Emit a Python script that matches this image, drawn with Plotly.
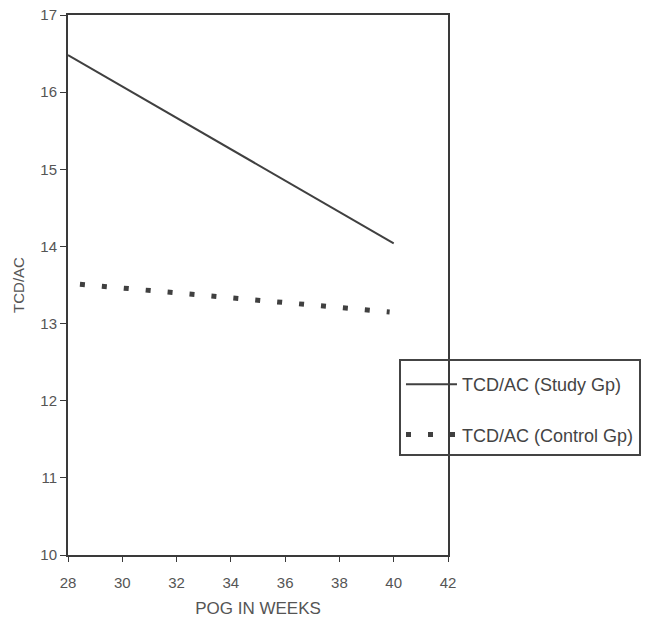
import plotly.graph_objects as go

# Data
study_weeks = [28, 40]
study_tcd_ac = [16.48, 14.04]

control_weeks = [28.44, 39.85]
control_tcd_ac = [13.51, 13.15]

x_ticks = [28, 30, 32, 34, 36, 38, 40, 42]
y_ticks = [10, 11, 12, 13, 14, 15, 16, 17]

FONT = "Liberation Sans, Arial, Helvetica, sans-serif"
TEXT = "#555555"
LINE = "#3a3a3a"

fig = go.Figure()
fig.add_trace(go.Scatter(
    x=study_weeks, y=study_tcd_ac, mode="lines",
    name="TCD/AC (Study Gp)", legendgroup="a",
    line=dict(color="#404040", width=2),
))
fig.add_trace(go.Scatter(
    x=control_weeks, y=control_tcd_ac, mode="lines",
    name="TCD/AC (Control Gp)", legendgroup="b",
    line=dict(color="#404040", width=5, dash="5px,17px"),
))

fig.update_layout(
    width=646, height=621,
    margin=dict(l=68, r=198, t=15, b=66, autoexpand=False),
    paper_bgcolor="white", plot_bgcolor="white",
    font=dict(family=FONT, size=15, color=TEXT),
    showlegend=True,
    legend=dict(
        x=0.871, y=0.3633, xanchor="left", yanchor="top",
        bgcolor="rgba(0,0,0,0)", bordercolor="#444444", borderwidth=2,
        font=dict(family=FONT, size=18, color="#444444"),
        title=dict(text=" ", font=dict(size=4)),
        traceorder="grouped", tracegroupgap=24, itemwidth=51,
        entrywidth=275, entrywidthmode="pixels",
    ),
    xaxis=dict(
        range=[28, 42], tickvals=x_ticks, ticktext=[str(v) for v in x_ticks],
        showline=True, linecolor=LINE, linewidth=2, mirror=True,
        ticks="outside", ticklen=5, tickcolor=LINE, tickwidth=1,
        ticklabelstandoff=8, ticklabeloverflow="allow",
        showgrid=False, zeroline=False,
        title=dict(text="POG IN WEEKS", font=dict(size=17, color=TEXT), standoff=12),
    ),
    yaxis=dict(
        range=[10, 17], tickvals=y_ticks, ticktext=[str(v) for v in y_ticks],
        showline=True, linecolor=LINE, linewidth=2, mirror=True,
        ticks="outside", ticklen=6, tickcolor=LINE, tickwidth=1,
        ticklabeloverflow="allow",
        showgrid=False, zeroline=False,
        title=dict(text="TCD/AC", font=dict(size=15, color=TEXT), standoff=12),
    ),
)

fig.write_html(
    "out.html",
    config={"displayModeBar": False},
    post_script="document.body.style.margin='0';",
)
